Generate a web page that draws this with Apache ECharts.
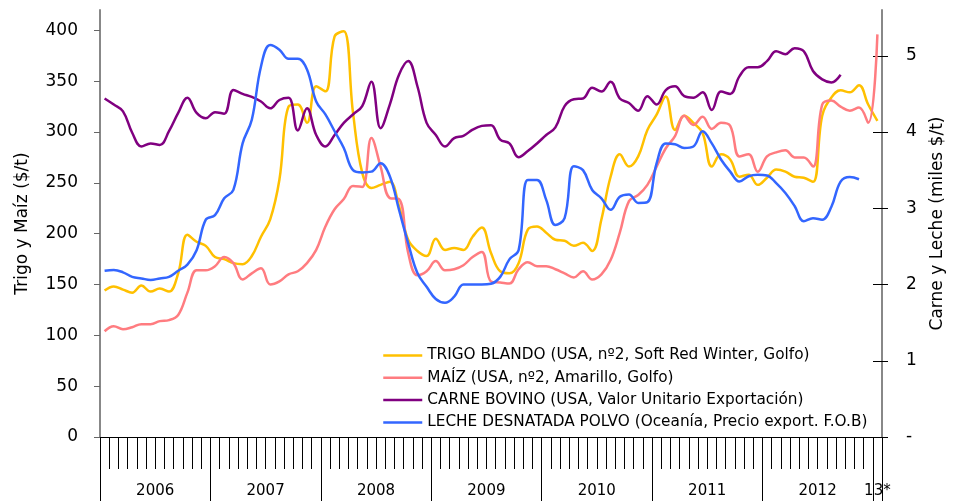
<!DOCTYPE html>
<html>
<head>
<meta charset="utf-8">
<script src="https://cdn.jsdelivr.net/npm/echarts@6/dist/echarts.min.js"></script>
<style>
  html, body { margin: 0; padding: 0; background: #fff; }
  #chart_block { width: 956px; height: 501px; }
</style>
</head>
<body>
<div id="chart_block"></div>
<script>
// meses ene 2006 - ene 2013
var years = ['2006', '2007', '2008', '2009', '2010', '2011', '2012', '13*'];
var yearMonths = [12, 12, 12, 12, 12, 12, 12, 1];

// $/t (eje izq.)
var trigo = [144, 148, 145, 142, 149, 143, 146, 143, 161, 199,
  192, 188, 177, 175, 171, 170, 178, 197, 214, 253,
  325, 327, 309, 345, 340, 394, 399, 319, 260, 245,
  248, 251, 227, 194, 183, 178, 195, 184, 186, 184,
  197, 206, 181, 163, 161, 171, 204, 207, 201, 194,
  193, 188, 191, 183, 214, 256, 278, 266, 276, 302,
  317, 335, 302, 316, 309, 299, 266, 278, 273, 256,
  258, 248, 255, 263, 261, 256, 255, 251, 316, 334,
  341, 339, 346, 327, 311];
var maiz = [104, 109, 106, 108, 111, 111, 114, 115, 120, 142,
  164, 164, 168, 177, 171, 155, 161, 166, 150, 153,
  160, 163, 171, 184, 207, 224, 234, 247, 246, 294,
  266, 235, 234, 181, 159, 163, 173, 164, 165, 169,
  177, 182, 153, 152, 151, 165, 172, 168, 168, 165,
  161, 157, 163, 155, 160, 174, 201, 232, 238, 248,
  266, 284, 296, 316, 307, 315, 303, 309, 306, 276,
  278, 261, 276, 280, 282, 275, 275, 266, 327, 331,
  325, 321, 324, 309, 396];

// miles $/t (eje dcho.)
var carne = [4.44, 4.36, 4.27, 3.99, 3.81, 3.85, 3.83, 4.01, 4.25, 4.45,
  4.25, 4.18, 4.26, 4.24, 4.55, 4.50, 4.46, 4.40, 4.31, 4.42,
  4.45, 4.02, 4.31, 3.96, 3.81, 3.96, 4.12, 4.23, 4.34, 4.66,
  4.05, 4.36, 4.75, 4.93, 4.60, 4.12, 3.96, 3.81, 3.92, 3.95,
  4.03, 4.08, 4.09, 3.90, 3.85, 3.67, 3.75, 3.85, 3.96, 4.06,
  4.34, 4.43, 4.44, 4.58, 4.53, 4.66, 4.44, 4.38, 4.28, 4.47,
  4.36, 4.55, 4.60, 4.47, 4.45, 4.52, 4.29, 4.53, 4.50, 4.73,
  4.85, 4.85, 4.93, 5.06, 5.02, 5.10, 5.06, 4.80, 4.69, 4.65,
  4.75, null, null, null, null];
var leche = [2.18, 2.19, 2.16, 2.10, 2.08, 2.06, 2.08, 2.10, 2.18, 2.26,
  2.45, 2.85, 2.91, 3.13, 3.24, 3.85, 4.16, 4.86, 5.14, 5.08,
  4.96, 4.96, 4.82, 4.40, 4.23, 4.01, 3.79, 3.50, 3.47, 3.48,
  3.59, 3.42, 2.98, 2.54, 2.15, 1.97, 1.81, 1.76, 1.84, 2.00,
  2.00, 2.00, 2.01, 2.10, 2.33, 2.45, 3.37, 3.37, 3.11, 2.78,
  2.87, 3.55, 3.50, 3.24, 3.13, 2.98, 3.15, 3.18, 3.07, 3.08,
  3.59, 3.85, 3.84, 3.79, 3.81, 4.01, 3.85, 3.64, 3.48, 3.35,
  3.42, 3.44, 3.43, 3.33, 3.20, 3.03, 2.83, 2.87, 2.85, 3.02,
  3.35, 3.41, 3.38, null, null];

var leftTicks = [0, 50, 100, 150, 200, 250, 300, 350, 400];
var rightTicks = [0, 1, 2, 3, 4, 5];

var names = [
  'TRIGO BLANDO (USA, nº2, Soft Red Winter, Golfo)',
  'MAÍZ (USA, nº2, Amarillo, Golfo)',
  'CARNE BOVINO (USA, Valor Unitario Exportación)',
  'LECHE DESNATADA POLVO (Oceanía, Precio export. F.O.B)'
];
var colors = ['#FFC000', '#FF7C80', '#800080', '#3366FF'];

// categorias mensuales y marcas de año
var months = [];
var yearBounds = [0];
var yearMids = [];
var pos = 0;
for (var y = 0; y < years.length; y++) {
  for (var m = 0; m < yearMonths[y]; m++) {
    months.push(years[y] + '-' + (m + 1));
  }
  yearMids.push(pos + yearMonths[y] / 2);
  pos += yearMonths[y];
  yearBounds.push(pos);
}

var font = 'DejaVu Sans';

var chartDom = document.getElementById('chart_block');
var myChart = echarts.init(chartDom);

function line(i, data, axis) {
  return {
    name: names[i],
    type: 'line',
    yAxisIndex: axis,
    data: data,
    smooth: 0.4,
    symbol: 'none',
    connectNulls: false,
    color: colors[i],
    lineStyle: { width: 2.5, color: colors[i] }
  };
}

var option = {
  animation: false,
  backgroundColor: '#fff',
  textStyle: { fontFamily: font },
  grid: { left: 100, right: 74, top: 10, bottom: 64 },
  legend: {
    orient: 'vertical',
    left: 377,
    top: 343,
    padding: 5,
    itemWidth: 39,
    itemHeight: 14,
    itemGap: 7.3,
    itemStyle: { opacity: 0 },
    lineStyle: { width: 2.5 },
    textStyle: { fontFamily: font, fontSize: 15.3, color: '#000', lineHeight: 14 },
    data: names
  },
  xAxis: [
    {
      type: 'category',
      data: months,
      boundaryGap: true,
      axisLine: { lineStyle: { color: '#000', width: 1 } },
      axisTick: { show: true, interval: 0, length: 32, lineStyle: { color: '#000' } },
      axisLabel: { show: false },
      splitLine: { show: false }
    },
    {
      type: 'value',
      position: 'bottom',
      min: 0,
      max: months.length,
      axisLine: { show: false },
      axisTick: {
        show: true,
        length: 64,
        customValues: yearBounds,
        lineStyle: { color: '#000' }
      },
      axisLabel: {
        show: true,
        customValues: yearMids,
        margin: 47,
        fontFamily: font,
        fontSize: 15,
        color: '#000',
        formatter: function (v) {
          var k = yearMids.indexOf(v);
          return k >= 0 ? years[k] : '';
        }
      },
      splitLine: { show: false }
    }
  ],
  yAxis: [
    {
      type: 'value',
      position: 'left',
      min: 0,
      max: 420,
      name: 'Trigo y Maíz ($/t)',
      nameLocation: 'middle',
      nameGap: 69,
      nameTextStyle: { fontFamily: font, fontSize: 17, color: '#000' },
      axisLine: { show: true, lineStyle: { color: '#888', width: 2 } },
      axisTick: { show: true, length: 6, customValues: leftTicks, lineStyle: { color: '#666' } },
      axisLabel: { customValues: leftTicks, margin: 22, fontFamily: font, fontSize: 17, color: '#000' },
      splitLine: { show: false }
    },
    {
      type: 'value',
      position: 'right',
      min: 0,
      max: 5.6,
      name: 'Carne y Leche (miles $/t)',
      nameLocation: 'middle',
      nameGap: 47,
      nameTextStyle: { fontFamily: font, fontSize: 17, color: '#000' },
      axisLine: { show: true, lineStyle: { color: '#888', width: 2 } },
      axisTick: { show: true, length: 6, customValues: rightTicks, lineStyle: { color: '#000' } },
      axisLabel: {
        customValues: rightTicks,
        margin: 24,
        fontFamily: font,
        fontSize: 17,
        color: '#000',
        formatter: function (v) { return v === 0 ? '-' : String(v); }
      },
      splitLine: { show: false }
    },
    {
      type: 'value',
      position: 'right',
      min: 0,
      max: 5.6,
      axisLine: { show: false },
      axisTick: { show: true, inside: true, length: 9, customValues: rightTicks, lineStyle: { color: '#000' } },
      axisLabel: { show: false },
      splitLine: { show: false }
    }
  ],
  series: [
    line(0, trigo, 0),
    line(1, maiz, 0),
    line(2, carne, 1),
    line(3, leche, 1)
  ]
};

myChart.setOption(option);
</script>
</body>
</html>
